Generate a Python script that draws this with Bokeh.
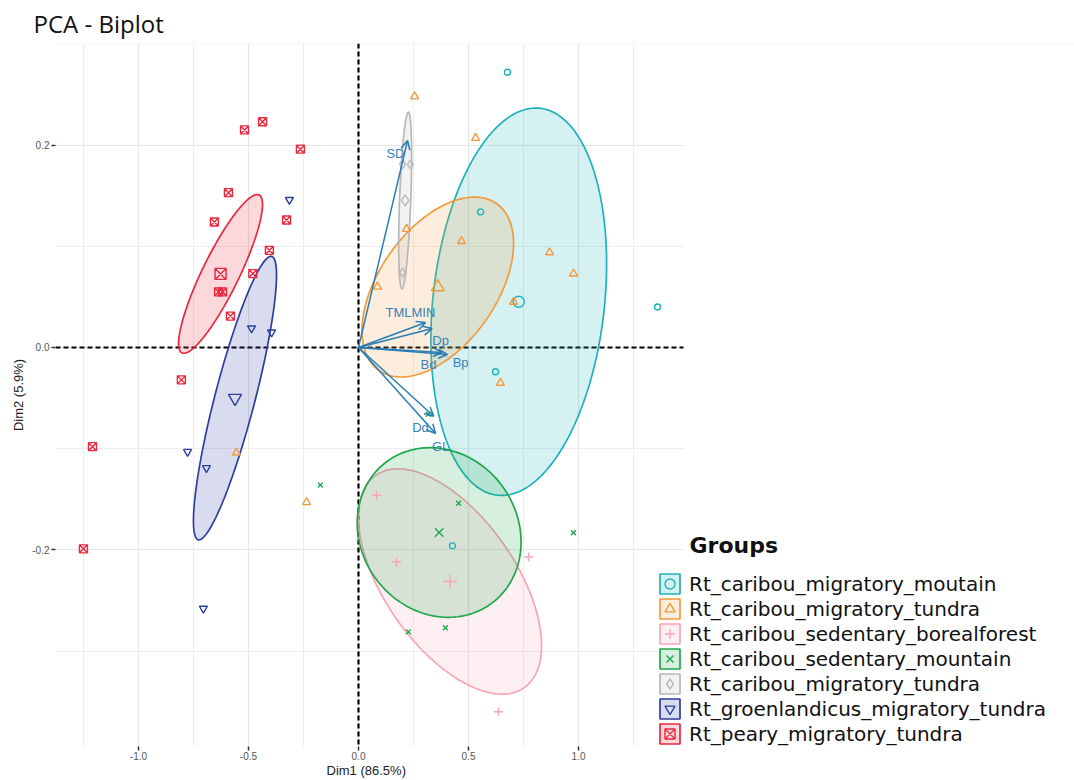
import numpy as np
from bokeh.plotting import figure
from bokeh.core.properties import value
from bokeh.models import (Range1d, FixedTicker, Span, Arrow, OpenHead, ColumnDataSource,
                          LabelSet, Label, Legend, LegendItem, PrintfTickFormatter,
                          BoxAnnotation, Title)
from bokeh.embed import file_html
from bokeh.resources import INLINE

# ---------------- data ----------------
group_names = ["Rt_caribou_migratory_moutain", "Rt_caribou_migratory_tundra",
               "Rt_caribou_sedentary_borealforest", "Rt_caribou_sedentary_mountain",
               "Rt_caribou_migratory_tundra", "Rt_groenlandicus_migratory_tundra",
               "Rt_peary_migratory_tundra"]
group_colors = ["#1DB2B9", "#F29A3C", "#F6A5B6", "#20A64B", "#B8B8B8", "#2D3E9F", "#E8283C"]
group_markers = ["circle", "triangle", "cross", "x", "diamond", "inverted_triangle", "square_x"]

mtn_mig_x = [0.677, 0.555, 1.359, 0.623, 0.427]
mtn_mig_y = [0.272, 0.134, 0.040, -0.024, -0.196]

tundra_mig_x = [0.255, 0.532, 0.468, 0.868, 0.977, 0.705, 0.645, 0.218, 0.086, -0.555, -0.236]
tundra_mig_y = [0.248, 0.207, 0.105, 0.094, 0.073, 0.045, -0.035, 0.117, 0.060, -0.104, -0.153]

boreal_sed_x = [0.082, 0.173, 0.773, 0.636]
boreal_sed_y = [-0.146, -0.212, -0.207, -0.360]

mtn_sed_x = [-0.173, 0.455, 0.977, 0.227, 0.395, 0.318]
mtn_sed_y = [-0.136, -0.154, -0.183, -0.281, -0.277, -0.066]

tundra_mig2_x = [0.200, 0.236, 0.200]
tundra_mig2_y = [0.181, 0.181, 0.074]

groen_x = [-0.314, -0.486, -0.395, -0.777, -0.691, -0.705]
groen_y = [0.146, 0.019, 0.015, -0.103, -0.119, -0.258]

peary_x = [-0.518, -0.436, -0.264, -0.591, -0.655, -0.327, -0.405, -0.480,
           -0.636, -0.618, -0.582, -0.805, -1.209, -1.250]
peary_y = [0.215, 0.223, 0.196, 0.153, 0.124, 0.126, 0.096, 0.073,
           0.055, 0.055, 0.031, -0.032, -0.098, -0.199]

group_x = [mtn_mig_x, tundra_mig_x, boreal_sed_x, mtn_sed_x, tundra_mig2_x, groen_x, peary_x]
group_y = [mtn_mig_y, tundra_mig_y, boreal_sed_y, mtn_sed_y, tundra_mig2_y, groen_y, peary_y]

var_names = ["SD", "TMLMIN", "Dp", "Bp", "Bd", "Dd", "GL"]
var_x = [0.223, 0.305, 0.335, 0.404, 0.380, 0.342, 0.350]
var_y = [0.2045, 0.0247, 0.0188, -0.0069, -0.0050, -0.068, -0.085]
var_label_x = [0.168, 0.236, 0.373, 0.464, 0.318, 0.282, 0.373]
var_label_y = [0.192, 0.0346, 0.0069, -0.0148, -0.0168, -0.0791, -0.0978]

x_ticks = [-1.0, -0.5, 0.0, 0.5, 1.0]
x_minor = [-1.25, -0.75, -0.25, 0.25, 0.75, 1.25]
y_ticks = [-0.2, 0.0, 0.2]
y_minor = [-0.3, -0.1, 0.1, 0.3]

# visible extent of the data panel (the area to its right holds the legend)
panel_x = (-1.377, 1.477)
panel_y = (-0.3943, 0.3004)

ellipse_level = 0.95


def conf_ellipse(xs, ys, level, n_pts=240):
    pts = np.column_stack([xs, ys])
    m = pts.mean(axis=0)
    cov = np.cov(pts, rowvar=False) / len(xs)
    L = np.linalg.cholesky(cov)
    r = np.sqrt(-2.0 * np.log(1.0 - level))
    t = np.linspace(0, 2 * np.pi, n_pts)
    circ = np.vstack([np.cos(t), np.sin(t)])
    e = m[:, None] + r * (L @ circ)
    return e[0], e[1]


# ---------------- figure ----------------
W, H = 1074, 780
left_b, top_b, bottom_b = 55, 43, 34
panel_w = 628  # pixel width of the data panel
x_per_px = (panel_x[1] - panel_x[0]) / panel_w
x_end = panel_x[0] + (W - left_b) * x_per_px

p = figure(width=W, height=H,
           x_range=Range1d(panel_x[0], x_end), y_range=Range1d(panel_y[0], panel_y[1]),
           output_backend="svg", toolbar_location=None,
           min_border_left=left_b, min_border_right=0, min_border_top=top_b,
           min_border_bottom=bottom_b,
           background_fill_color="white", border_fill_color="white")
p.outline_line_color = None

p.title.text = "PCA - Biplot"
p.title.text_font = "Open Sans"
p.title.text_font_size = "24px"
p.title.text_font_style = "normal"
p.title.text_color = "#111111"
p.title.align = "left"
p.title.offset = -22
p.title.standoff = 8

xt = FixedTicker(ticks=x_ticks, minor_ticks=x_minor)
yt = FixedTicker(ticks=y_ticks, minor_ticks=y_minor)
p.xaxis.ticker = xt
p.yaxis.ticker = yt
p.xgrid.ticker = xt
p.ygrid.ticker = yt
p.xaxis.formatter = PrintfTickFormatter(format="%.1f")
p.yaxis.formatter = PrintfTickFormatter(format="%.1f")
p.yaxis.axis_label = "Dim2 (5.9%)"
for ax in (p.xaxis[0], p.yaxis[0]):
    ax.axis_line_color = None
    ax.major_tick_line_color = "#333333"
    ax.major_tick_line_width = 1.5
    ax.major_tick_out = 4
    ax.major_tick_in = 0
    ax.minor_tick_line_color = None
    ax.major_label_text_font = "Liberation Sans"
    ax.major_label_text_font_size = "10px"
    ax.major_label_text_color = "#555555"
    ax.major_label_standoff = 2
    ax.axis_label_text_font = "Liberation Sans"
    ax.axis_label_text_font_size = "13px"
    ax.axis_label_text_font_style = "normal"
    ax.axis_label_text_color = "#222222"
    ax.axis_label_standoff = 3
p.xaxis.major_label_standoff = 1

# x-axis title, centred under the data panel
xlab = Title(text="Dim1 (86.5%)", align="left", offset=271, text_font="Liberation Sans",
             text_font_size="13px", text_font_style="normal", text_color="#222222",
             standoff=0, vertical_align="top")
p.add_layout(xlab, "below")

for g in (p.xgrid[0], p.ygrid[0]):
    g.grid_line_color = "#E6E6E6"
    g.grid_line_width = 1.2
    g.minor_grid_line_color = "#EDEDED"
    g.minor_grid_line_width = 1.0

p.add_layout(Span(location=0, dimension="height", line_color="black",
                  line_dash="5 3", line_width=2.2, level="underlay"))
p.add_layout(Span(location=0, dimension="width", line_color="black",
                  line_dash="5 3", line_width=2.2, level="underlay"))

small_sizes = [6, 8, 9, 7, 9, 8, 8]
big_sizes = [11, 13, 14, 12, 11, 13, 11]

ell_r, pts_r = [], []
for i in range(len(group_names)):
    ex, ey = conf_ellipse(group_x[i], group_y[i], ellipse_level)
    er = p.patch(ex, ey, fill_color=group_colors[i], fill_alpha=0.18,
                 line_color=group_colors[i], line_width=1.7)
    ell_r.append(er)

for i in range(len(group_names)):
    src = ColumnDataSource(dict(x=group_x[i], y=group_y[i]))
    pr = p.scatter("x", "y", source=src, marker=group_markers[i], size=small_sizes[i],
                   line_color=group_colors[i], fill_color=None, line_width=1.4)
    pts_r.append(pr)
    csrc = ColumnDataSource(dict(x=[float(np.mean(group_x[i]))], y=[float(np.mean(group_y[i]))]))
    p.scatter("x", "y", source=csrc, marker=group_markers[i], size=big_sizes[i],
              line_color=group_colors[i], fill_color=None, line_width=1.4)

arrow_color = "#2B7DB6"
arrow_src = ColumnDataSource(dict(x0=[0.0] * len(var_x), y0=[0.0] * len(var_y), x1=var_x, y1=var_y))
p.add_layout(Arrow(end=OpenHead(size=9, line_color=arrow_color, line_width=1.5),
                   x_start="x0", y_start="y0", x_end="x1", y_end="y1", source=arrow_src,
                   line_color=arrow_color, line_width=1.5))
lab_src = ColumnDataSource(dict(x=var_label_x, y=var_label_y, text=var_names))
p.add_layout(LabelSet(x="x", y="y", text="text", source=lab_src, text_align="center",
                      text_baseline="middle", text_color="#3483BA",
                      text_font=value("Liberation Sans"), text_font_size="13px"))

# white area right of the data panel (legend area)
p.add_layout(BoxAnnotation(left=panel_x[1], fill_color="white", fill_alpha=1.0,
                           line_color=None))

items = [LegendItem(label=group_names[i], renderers=[ell_r[i], pts_r[i]]) for i in range(len(group_names))]
legend = Legend(items=items, location=(602, 0), orientation="vertical",
                glyph_width=25, glyph_height=25, label_height=25, spacing=0,
                padding=0, margin=0, label_standoff=7,
                label_text_font="DejaVu Sans", label_text_font_size="20px",
                label_text_color="#111111",
                background_fill_color="white", background_fill_alpha=1.0,
                border_line_color=None)
p.add_layout(legend)

p.add_layout(Label(x=634, y=201, x_units="screen", y_units="screen", text="Groups",
                   text_font="DejaVu Sans", text_font_style="bold", text_font_size="22px",
                   text_baseline="middle", text_align="left", text_color="#111111"))

open("out.html", "w").write(file_html(p, INLINE))
